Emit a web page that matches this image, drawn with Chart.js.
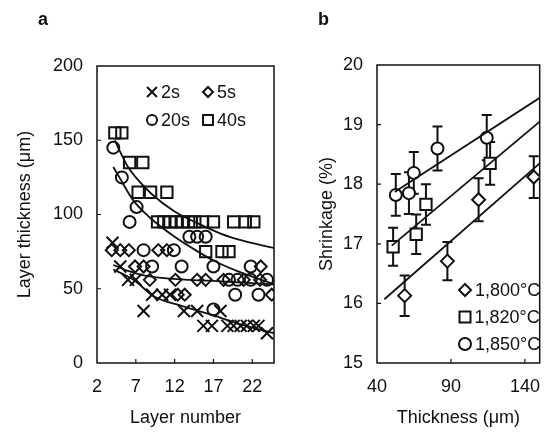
<!DOCTYPE html>
<html>
<head>
<meta charset="utf-8">
<script src="https://cdn.jsdelivr.net/npm/chart.js@4/dist/chart.umd.min.js"></script>
<style>
  body { margin: 0; background: #fff; }
  #wrap { position: relative; width: 554px; height: 440px; }
  canvas { position: absolute; top: 0; }
</style>
</head>
<body>
<div id="wrap">
  <canvas id="chartA" width="290" height="440" style="left:0"></canvas>
  <canvas id="chartB" width="264" height="440" style="left:290px"></canvas>
</div>
<script>
// ---- panel a: layer thickness vs layer number ----
const layerTicks = [2, 7, 12, 17, 22];

const layers2s = [4, 5, 6, 7, 8, 9.1, 10.4, 11.4, 13.2, 14.9, 17.9, 15.7, 16.8, 18.8, 19.6, 20.5, 21.3, 22.2, 22.8, 23.9];
const thick2s  = [81, 65, 56, 56, 35, 46, 46, 46, 35, 35, 35, 25, 25, 25, 25, 25, 25, 25, 25, 20];

const layers5s = [3.9, 5, 6.1, 9.9, 11, 6.9, 8, 23.1, 8.8, 12.1, 14.9, 16, 18.3, 20.9, 23, 12.4, 13.3, 24.5];
const thick5s  = [76, 76, 76, 76, 76, 65, 65, 65, 56, 56, 56, 56, 56, 56, 56, 46, 46, 46];

const layers20s = [4.1, 5.2, 7.1, 6.2, 13.9, 14.9, 16, 8, 11.9, 9.1, 12.9, 17, 21.8, 19, 20.1, 21.8, 23.9, 19.8, 22.8, 17];
const thick20s  = [145, 125, 105, 95, 85, 85, 85, 76, 76, 65, 65, 65, 65, 56, 56, 56, 56, 46, 46, 36];

const layers40s = [4.3, 5.2, 6.2, 7.9, 7.3, 8.9, 11, 9.8, 10.6, 11.4, 12.2, 13, 13.8, 14.6, 15.6, 17, 19.6, 21.1, 22.2, 16, 18.1, 19];
const thick40s  = [155, 155, 135, 135, 115, 115, 115, 95, 95, 95, 95, 95, 95, 95, 95, 95, 95, 95, 95, 75, 75, 75];

// fitted curves
const fit2sX  = [4.1, 6.7, 9.3, 13.2, 17, 20.5, 24.8];
const fit2sY  = [63, 56, 45, 38, 32, 26, 20];
const fit5sX  = [4.1, 6, 8, 10, 14, 18, 24.8];
const fit5sY  = [66, 62, 59, 57.5, 56, 55, 53];
const fit20sX = [4.1, 5, 6.6, 8.8, 12, 15, 17, 20, 24.8];
const fit20sY = [132, 124, 110, 98, 85, 75, 69, 62, 53];
const fit40sX = [4.3, 5, 6, 7, 9, 12, 15, 18, 21, 24.8];
const fit40sY = [150, 142, 132, 125, 114, 102, 94, 87, 82, 77.5];

// ---- panel b: shrinkage vs thickness ----
const thicknessTicks = [40, 90, 140];

const thick1800 = [58.7, 87.6, 108.7, 146];
const shr1800   = [16.13, 16.71, 17.74, 18.12];
const err1800   = [0.34, 0.32, 0.36, 0.35];

const thick1820 = [50.9, 66.5, 73.1, 116.5];
const shr1820   = [16.95, 17.16, 17.66, 18.35];
const err1820   = [0.32, 0.33, 0.34, 0.36];

const thick1850 = [52.7, 61.6, 64.9, 80.9, 114.2];
const shr1850   = [17.82, 17.85, 18.19, 18.6, 18.78];
const err1850   = [0.35, 0.35, 0.35, 0.37, 0.38];

const fit1800X = [45, 150];
const fit1800Y = [16.07, 18.35];
const fit1820X = [50, 150];
const fit1820Y = [16.97, 19.05];
const fit1850X = [52, 150];
const fit1850Y = [17.87, 19.45];

const FONT = "'Liberation Sans', Arial, sans-serif";
const INK = '#111';

function xy(xs, ys) {
  return xs.map((x, i) => ({ x: x, y: ys[i] }));
}

function marker(label, xs, ys, style, r, fill) {
  return {
    label: label,
    data: xy(xs, ys),
    pointStyle: style,
    pointRadius: r,
    pointBorderWidth: 2,
    pointBorderColor: INK,
    pointBackgroundColor: fill,
    showLine: false
  };
}

function curve(xs, ys) {
  return {
    data: xy(xs, ys),
    showLine: true,
    borderColor: INK,
    borderWidth: 1.8,
    pointRadius: 0,
    tension: 0.4,
    cubicInterpolationMode: 'monotone'
  };
}

// simple symbol drawer for the in-plot legends
function drawSymbol(ctx, style, x, y, s) {
  ctx.beginPath();
  if (style === 'crossRot') {
    ctx.moveTo(x - s, y - s); ctx.lineTo(x + s, y + s);
    ctx.moveTo(x + s, y - s); ctx.lineTo(x - s, y + s);
  } else if (style === 'rectRot') {
    ctx.moveTo(x, y - s); ctx.lineTo(x + s, y); ctx.lineTo(x, y + s); ctx.lineTo(x - s, y); ctx.closePath();
  } else if (style === 'rect') {
    ctx.rect(x - s, y - s, 2 * s, 2 * s);
  } else {
    ctx.arc(x, y, s, 0, Math.PI * 2);
  }
  ctx.stroke();
}

// frame, inward ticks, error bars, panel letter and legend
const framePlugin = {
  id: 'frame',
  beforeDatasetsDraw(chart, args, opts) {
    const ctx = chart.ctx;
    const area = chart.chartArea;
    const xs = chart.scales.x, ys = chart.scales.y;
    ctx.save();
    ctx.strokeStyle = INK;
    ctx.lineWidth = 1.5;
    ctx.strokeRect(area.left, area.top, area.right - area.left, area.bottom - area.top);
    ctx.lineWidth = 1.2;
    ctx.beginPath();
    xs.ticks.forEach(t => {
      if (t.value <= xs.min || t.value >= xs.max) return;
      const px = xs.getPixelForValue(t.value);
      ctx.moveTo(px, area.bottom); ctx.lineTo(px, area.bottom - 4);
    });
    ys.ticks.forEach(t => {
      if (t.value <= ys.min || t.value >= ys.max) return;
      const py = ys.getPixelForValue(t.value);
      ctx.moveTo(area.left, py); ctx.lineTo(area.left + 4, py);
    });
    ctx.stroke();

    // error bars (drawn under the markers)
    chart.data.datasets.forEach(ds => {
      if (!ds.errors) return;
      ctx.lineWidth = 2;
      ds.data.forEach((p, i) => {
        const px = xs.getPixelForValue(p.x);
        const top = ys.getPixelForValue(p.y + ds.errors[i]);
        const bot = ys.getPixelForValue(p.y - ds.errors[i]);
        ctx.beginPath();
        ctx.moveTo(px, top); ctx.lineTo(px, bot);
        ctx.moveTo(px - 5, top); ctx.lineTo(px + 5, top);
        ctx.moveTo(px - 5, bot); ctx.lineTo(px + 5, bot);
        ctx.stroke();
      });
    });
    ctx.restore();
  },
  afterDraw(chart, args, opts) {
    const ctx = chart.ctx;
    ctx.save();
    ctx.fillStyle = INK;
    ctx.strokeStyle = INK;
    ctx.font = 'bold 18px ' + FONT;
    ctx.textBaseline = 'middle';
    ctx.fillText(opts.letter, opts.letterX, 20);
    ctx.font = '18px ' + FONT;
    ctx.lineWidth = 2;
    opts.legend.forEach(item => {
      drawSymbol(ctx, item.style, item.x, item.y, item.s);
      ctx.fillText(item.text, item.x + item.s + 4, item.y + 1);
    });
    ctx.restore();
  }
};

function axisTitle(text, pad) {
  return { display: true, text: text, color: INK, font: { family: FONT, size: 18 }, padding: pad };
}

const tickFont = { family: FONT, size: 18 };

// Panel a
new Chart(document.getElementById('chartA'), {
  type: 'scatter',
  data: {
    datasets: [
      curve(fit40sX, fit40sY),
      curve(fit20sX, fit20sY),
      curve(fit5sX, fit5sY),
      curve(fit2sX, fit2sY),
      marker('2s', layers2s, thick2s, 'crossRot', 8.5, 'rgba(0,0,0,0)'),
      marker('5s', layers5s, thick5s, 'rectRot', 6, 'rgba(0,0,0,0)'),
      marker('20s', layers20s, thick20s, 'circle', 6, 'rgba(0,0,0,0)'),
      marker('40s', layers40s, thick40s, 'rect', 8, 'rgba(0,0,0,0)')
    ]
  },
  options: {
    responsive: false,
    devicePixelRatio: 1,
    animation: false,
    layout: { padding: { left: 0, right: 16, top: 66, bottom: 0 } },
    plugins: {
      legend: { display: false },
      tooltip: { enabled: false },
      frame: {
        letter: 'a', letterX: 38,
        legend: [
          { style: 'crossRot', text: '2s', x: 152, y: 92, s: 5 },
          { style: 'rectRot', text: '5s', x: 208, y: 92, s: 5 },
          { style: 'circle', text: '20s', x: 152, y: 120, s: 5 },
          { style: 'rect', text: '40s', x: 208, y: 120, s: 5 }
        ]
      }
    },
    scales: {
      x: {
        type: 'linear', min: 2, max: 24.8,
        grid: { display: false, drawTicks: false },
        border: { display: false },
        afterBuildTicks: s => { s.ticks = layerTicks.map(v => ({ value: v })); },
        afterFit: s => { s.height = 77; },
        ticks: { color: INK, font: tickFont, padding: 13, maxRotation: 0, autoSkip: false },
        title: axisTitle('Layer number', { top: 0, bottom: 11 })
      },
      y: {
        min: 0, max: 200,
        grid: { display: false, drawTicks: false },
        border: { display: false },
        afterFit: s => { s.width = 97; },
        ticks: { stepSize: 50, color: INK, font: tickFont, padding: 14 },
        title: axisTitle('Layer thickness (μm)', { top: 14, bottom: 0 })
      }
    }
  },
  plugins: [framePlugin]
});

// Panel b
const ds1800 = marker('1,800°C', thick1800, shr1800, 'rectRot', 6.5, '#fff');
ds1800.errors = err1800;
const ds1820 = marker('1,820°C', thick1820, shr1820, 'rect', 8, '#fff');
ds1820.errors = err1820;
const ds1850 = marker('1,850°C', thick1850, shr1850, 'circle', 6, '#fff');
ds1850.errors = err1850;

new Chart(document.getElementById('chartB'), {
  type: 'scatter',
  data: {
    datasets: [
      curve(fit1800X, fit1800Y),
      curve(fit1820X, fit1820Y),
      curve(fit1850X, fit1850Y),
      ds1800, ds1820, ds1850
    ]
  },
  options: {
    responsive: false,
    devicePixelRatio: 1,
    animation: false,
    layout: { padding: { left: 0, right: 12, top: 65, bottom: 0 } },
    plugins: {
      legend: { display: false },
      tooltip: { enabled: false },
      frame: {
        letter: 'b', letterX: 28,
        legend: [
          { style: 'rectRot', text: '1,800°C', x: 175, y: 290, s: 6 },
          { style: 'rect', text: '1,820°C', x: 175, y: 317, s: 5.5 },
          { style: 'circle', text: '1,850°C', x: 175, y: 344, s: 6 }
        ]
      }
    },
    scales: {
      x: {
        type: 'linear', min: 40, max: 150,
        grid: { display: false, drawTicks: false },
        border: { display: false },
        afterBuildTicks: s => { s.ticks = thicknessTicks.map(v => ({ value: v })); },
        afterFit: s => { s.height = 77; },
        ticks: { color: INK, font: tickFont, padding: 13, maxRotation: 0, autoSkip: false },
        title: axisTitle('Thickness (μm)', { top: 0, bottom: 11 })
      },
      y: {
        min: 15, max: 20,
        grid: { display: false, drawTicks: false },
        border: { display: false },
        afterFit: s => { s.width = 87; },
        ticks: { stepSize: 1, color: INK, font: tickFont, padding: 14 },
        title: axisTitle('Shrinkage (%)', { top: 26, bottom: 0 })
      }
    }
  },
  plugins: [framePlugin]
});
</script>
</body>
</html>
